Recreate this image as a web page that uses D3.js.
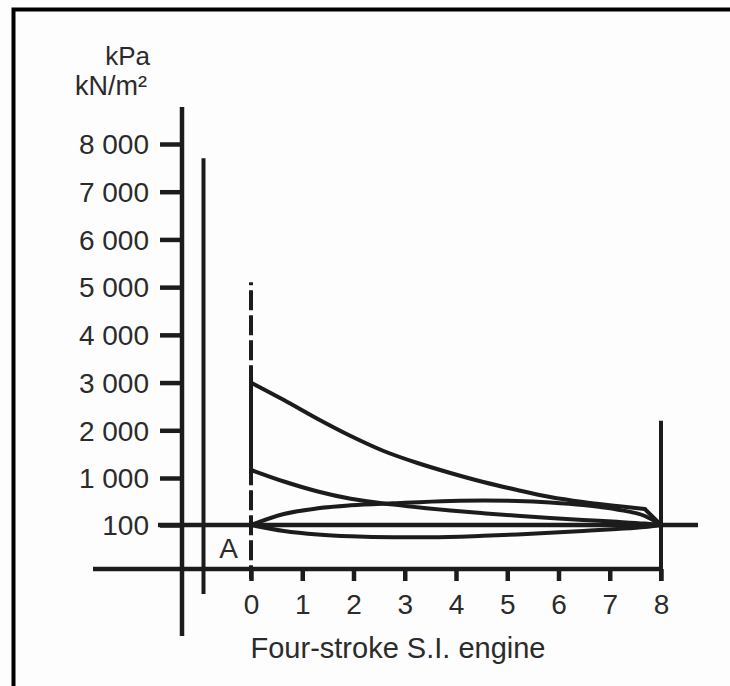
<!DOCTYPE html>
<html>
<head>
<meta charset="utf-8">
<script src="https://cdn.jsdelivr.net/npm/d3@7"></script>
<style>
  html, body { margin: 0; padding: 0; background: #fdfdfd; }
  svg { display: block; }
  text { font-family: "Liberation Sans", Arial, sans-serif; fill: #2b2b2b; }
</style>
</head>
<body>
<div id="chart"></div>
<script>
// ---- data ----
const xTicks = [0, 1, 2, 3, 4, 5, 6, 7, 8];
const yTicks = [100, 1000, 2000, 3000, 4000, 5000, 6000, 7000, 8000];

// expansion (power) stroke, last point reached by a straight release line
const expansionX = [0, 0.642, 1.304, 1.946, 2.588, 3.249, 3.891, 4.533, 5.195, 5.837, 6.479, 7.14, 7.685, 8];
const expansionP = [3000, 2635, 2237, 1880, 1566, 1314, 1105, 923, 770, 636, 540, 464, 406, 100];

// compression stroke
const compressionX = [0, 0.642, 1.304, 1.946, 2.782, 3.891, 4.533, 5.195, 5.837, 6.479, 7.14, 7.685, 8];
const compressionP = [1168, 933, 742, 602, 490, 378, 326, 276, 234, 196, 161, 127, 100];

// combustion (vertical at TDC)
const combustionX = [0, 0];
const combustionP = [1168, 3000];

// exhaust stroke (upper lens)
const exhaustX = [0, 0.642, 1.304, 1.946, 2.782, 3.891, 4.533, 5.195, 5.837, 6.479, 7.14, 7.685, 8];
const exhaustP = [100, 311, 420, 476, 516, 560, 569, 560, 531, 483, 397, 272, 100];

// induction stroke (lower lens)
const inductionX = [0, 0.642, 1.304, 1.946, 2.782, 3.502, 4.533, 5.195, 6.479, 7.14, 7.685, 8];
const inductionP = [100, 86.4, 78.4, 74.3, 72.3, 72.3, 75.5, 78.6, 86.4, 90.9, 95.5, 100];

const atmospheric = 100;
const tdcLineTop = 5100;
const bdcLineTop = 2200;
const secondLineTop = 7700;

// ---- layout ----
const W = 730, H = 686;
const svg = d3.select("#chart").append("svg").attr("width", W).attr("height", H);
svg.append("rect").attr("width", W).attr("height", H).attr("fill", "#fdfdfd");

const x = d3.scaleLinear().domain([0, 8]).range([251, 661]);
const y = d3.scaleLinear().domain([0, 100, 1000, 8000]).range([569, 525, 478, 144]);

const ink = "#1c1c1c";

// frame
svg.append("path").attr("d", "M13.5,686 V9.5 H730")
  .attr("fill", "none").attr("stroke", "#000").attr("stroke-width", 4);

// y axis
const fmt = d3.formatLocale({ decimal: ".", thousands: " ", grouping: [3], currency: ["", ""] }).format(",");
const yAxisX = 182;
const gy = svg.append("g").attr("transform", `translate(${yAxisX},0)`)
  .call(d3.axisLeft(y).tickValues(yTicks).tickSize(22).tickPadding(11).tickFormat(fmt));
gy.select(".domain").remove();
gy.selectAll(".tick line").attr("stroke", ink).attr("stroke-width", 4.5);
gy.selectAll(".tick text").attr("font-size", 28).attr("fill", "#2b2b2b").attr("dy", "0.35em");
svg.append("line").attr("x1", yAxisX).attr("x2", yAxisX).attr("y1", 107).attr("y2", 636)
  .attr("stroke", ink).attr("stroke-width", 4.5);

// second vertical line
svg.append("line").attr("x1", 203.5).attr("x2", 203.5).attr("y1", y(secondLineTop)).attr("y2", 594)
  .attr("stroke", ink).attr("stroke-width", 4);

// x axis
const xAxisY = y(0);
const gx = svg.append("g").attr("transform", `translate(0,${xAxisY})`)
  .call(d3.axisBottom(x).tickValues(xTicks).tickSize(12).tickPadding(13));
gx.select(".domain").remove();
gx.selectAll(".tick line").attr("stroke", ink).attr("stroke-width", 4.5);
gx.selectAll(".tick text").attr("font-size", 28).attr("fill", "#2b2b2b");
svg.append("line").attr("x1", 93).attr("x2", x(8)).attr("y1", xAxisY).attr("y2", xAxisY)
  .attr("stroke", ink).attr("stroke-width", 4.5);

// atmospheric line
svg.append("line").attr("x1", 158).attr("x2", 698).attr("y1", y(atmospheric)).attr("y2", y(atmospheric))
  .attr("stroke", ink).attr("stroke-width", 4.5);

// TDC dashed line
svg.append("line").attr("x1", x(0)).attr("x2", x(0)).attr("y1", y(tdcLineTop)).attr("y2", xAxisY + 10)
  .attr("stroke", ink).attr("stroke-width", 4).attr("stroke-dasharray", "20,5").attr("stroke-dashoffset", 17);

// BDC line
svg.append("line").attr("x1", x(8)).attr("x2", x(8)).attr("y1", y(bdcLineTop)).attr("y2", xAxisY + 12)
  .attr("stroke", ink).attr("stroke-width", 4);

// cycle curves
const toPts = (xs, ps) => xs.map((v, i) => [v, ps[i]]);
const smooth = d3.line().x(d => x(d[0])).y(d => y(d[1])).curve(d3.curveMonotoneX);
const straight = d3.line().x(d => x(d[0])).y(d => y(d[1])).curve(d3.curveLinear);

const expPts = toPts(expansionX, expansionP);
const paths = [
  smooth(toPts(inductionX, inductionP)),
  smooth(toPts(exhaustX, exhaustP)),
  smooth(toPts(compressionX, compressionP)),
  smooth(expPts.slice(0, -1)),
  straight(expPts.slice(-2)),
  straight(toPts(combustionX, combustionP))
];
paths.forEach(d => {
  svg.append("path").attr("d", d)
    .attr("fill", "none").attr("stroke", ink).attr("stroke-width", 4)
    .attr("stroke-linejoin", "round").attr("stroke-linecap", "round");
});

// labels
svg.append("text").attr("x", 150).attr("y", 65)
  .attr("text-anchor", "end").attr("font-size", 26).text("kPa");
svg.append("text").attr("x", 147).attr("y", 95)
  .attr("text-anchor", "end").attr("font-size", 27).text("kN/m²");
svg.append("text").attr("x", 228.5).attr("y", 558)
  .attr("text-anchor", "middle").attr("font-size", 28).text("A");
svg.append("text").attr("x", 398).attr("y", 658)
  .attr("text-anchor", "middle").attr("font-size", 29).text("Four-stroke S.I. engine");
</script>
</body>
</html>
